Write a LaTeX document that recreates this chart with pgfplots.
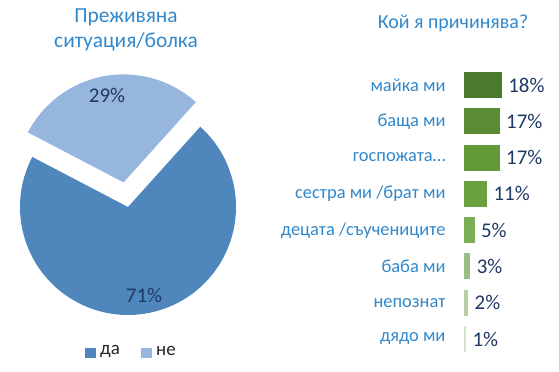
\documentclass[border=0pt]{standalone}
\usepackage{pgfplots}
\pgfplotsset{compat=1.18}
\usepackage{fontspec}
\setmainfont{Carlito}
\definecolor{pieDark}{HTML}{4F87BD}
\definecolor{pieLight}{HTML}{96B6DE}
\definecolor{titleBlue}{HTML}{3188CA}
\definecolor{navy}{HTML}{1F3864}
\definecolor{g1}{HTML}{4B7A2C}
\definecolor{g2}{HTML}{5A8C34}
\definecolor{g3}{HTML}{64993A}
\definecolor{g4}{HTML}{6BA040}
\definecolor{g5}{HTML}{7AAE57}
\definecolor{g6}{HTML}{9ABE82}
\definecolor{g7}{HTML}{B6CFA6}
\definecolor{g8}{HTML}{D3E2C9}
\begin{document}
\begin{tikzpicture}
% ---------- pie (canvas axis, 1 unit = 1bp) ----------
\begin{axis}[at={(0,0)},anchor=south west,scale only axis,width=559bp,height=372bp,
  xmin=0,xmax=559,ymin=0,ymax=372,hide axis,clip=false]
  \pgfmathsetmacro{\da}{71}
  \pgfmathsetmacro{\ne}{29}
  \pgfmathsetmacro{\aStart}{48}
  \pgfmathsetmacro{\aMid}{\aStart+\ne*3.6}
  \pgfmathsetmacro{\aEnd}{\aStart+360}
  \pgfmathsetmacro{\aHalf}{\aStart+\ne*1.8}
  % да (71%)
  \fill[pieDark] (axis cs:128,165) -- ++(\aMid:108bp) arc[start angle=\aMid,end angle=\aEnd,radius=108bp] -- cycle;
  % не (29%), exploded
  \fill[pieLight] (axis cs:128,165) ++(\aHalf:25bp) coordinate (nc) -- ++(\aStart:108bp) arc[start angle=\aStart,end angle=\aMid,radius=108bp] -- cycle;
  \node[text=navy,font=\fontsize{21}{24}\selectfont] at (axis cs:107,277) {29\%};
  \node[text=navy,font=\fontsize{21}{24}\selectfont] at (axis cs:144,77) {71\%};
  % title
  \node[text=titleBlue,font=\fontsize{21.5}{25}\selectfont,align=center] at (axis cs:126,342) {Преживяна\\ситуация/болка};
  \node[text=titleBlue,font=\fontsize{20}{22}\selectfont] at (axis cs:453,349) {Кой я причинява?};
  % legend
  \fill[pieDark] (axis cs:85,14) rectangle (axis cs:96,24);
  \node[anchor=west,text=black!85,font=\fontsize{19}{22}\selectfont,inner sep=0pt] at (axis cs:100,21) {да};
  \fill[pieLight] (axis cs:141,14) rectangle (axis cs:152,24);
  \node[anchor=west,text=black!85,font=\fontsize{19}{22}\selectfont,inner sep=0pt] at (axis cs:156,21) {не};
\end{axis}
% ---------- bars ----------
\begin{axis}[at={(464bp,305.14bp)},anchor=north west,scale only axis,width=42bp,height=290.3bp,
  xmin=0,xmax=20,ymin=-0.5,ymax=7.5,y dir=reverse,clip=false,
  axis line style={draw=none},major tick length=0pt,xtick=\empty,
  ytick={0,...,7},
  /pgf/number format/assume math mode=true,
  yticklabels={майка ми,баща ми,госпожата…,сестра ми /брат ми,децата /съучениците,баба ми,непознат,дядо ми},
  yticklabel style={text=titleBlue,font=\fontsize{18.5}{21}\selectfont,anchor=east,xshift=-15bp},
  every axis plot/.append style={xbar,bar width=26bp,bar shift=0pt,draw=none,
    nodes near coords={\pgfmathprintnumber[assume math mode=true]{\pgfplotspointmeta}\%},
    nodes near coords style={anchor=west,xshift=3bp,text=navy,font=\fontsize{21}{24}\selectfont}},
  ]
  \addplot[fill=g1] coordinates {(18,0)};
  \addplot[fill=g2] coordinates {(17,1)};
  \addplot[fill=g3] coordinates {(17,2)};
  \addplot[fill=g4] coordinates {(11,3)};
  \addplot[fill=g5] coordinates {(5,4)};
  \addplot[fill=g6] coordinates {(3,5)};
  \addplot[fill=g7] coordinates {(2,6)};
  \addplot[fill=g8] coordinates {(1,7)};
\end{axis}
\path (0,0) rectangle (559bp,372bp);
\end{tikzpicture}
\end{document}
